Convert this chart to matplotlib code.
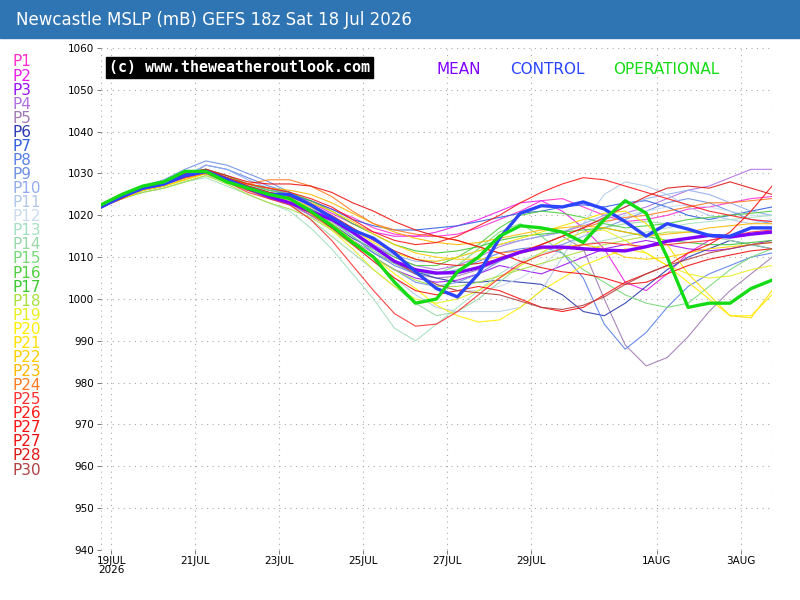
import matplotlib
matplotlib.use("Agg")
import matplotlib.pyplot as plt
from matplotlib.patches import Rectangle

# forecast hours from 18z 18 Jul, 12-hourly
hours = list(range(0, 385, 12))

mean = [1022, 1024.5, 1026.5, 1027.5, 1029.5, 1030.5, 1028.5, 1026.5, 1024.5, 1023, 1021, 1019, 1016,
        1012.5, 1009, 1007, 1006.2, 1006.3, 1007.5, 1009.5, 1011.2, 1012.4, 1012.4, 1012, 1011.7, 1011.5,
        1012.5, 1013.8, 1014.5, 1015.2, 1014.8, 1015.5, 1016]
control = [1022, 1024.5, 1026.5, 1027.5, 1029.5, 1030.5, 1028.5, 1026.5, 1025, 1025, 1022.5, 1019.5, 1016.5,
           1014.5, 1011, 1006.5, 1002.5, 1000.5, 1006, 1014.5, 1020.5, 1022.3, 1022, 1023.2, 1021.5, 1018.5,
           1015, 1018, 1016.7, 1015.2, 1015, 1017, 1017]
operational = [1022.5, 1025, 1027, 1028, 1030.5, 1030.5, 1028, 1026.5, 1025, 1024, 1021, 1017.5, 1013.5,
               1010, 1004, 999, 1000, 1006.5, 1010, 1015, 1017.5, 1017, 1016, 1013.5, 1019, 1023.5,
               1020.5, 1010, 998, 999, 999, 1002.5, 1004.5]

member_names = ["P1", "P2", "P3", "P4", "P5", "P6", "P7", "P8", "P9", "P10", "P11", "P12", "P13", "P14", "P15",
                "P16", "P17", "P18", "P19", "P20", "P21", "P22", "P23", "P24", "P25", "P26", "P27", "P27",
                "P28", "P30"]
member_colors = ["#ff2fd0", "#e81ee8", "#9a10f0", "#b070e0", "#a07ab4", "#2a3ab0", "#2f5ee0", "#5a80e8",
                 "#6f90e4", "#92acee", "#b2c8ea", "#cadbee", "#a6e0c2", "#98d8a8", "#78d878", "#50d040",
                 "#3ec834", "#a8e040", "#e8f020", "#ffee00", "#ffe000", "#ffd000", "#ffb800", "#ff7a20",
                 "#ff3030", "#ff1818", "#ff1010", "#f01010", "#e01818", "#b04040"]

p1 = [1022, 1024, 1026.5, 1027.5, 1029.5, 1030, 1028.5, 1027, 1026, 1025, 1023.5, 1021.5, 1019.5, 1017, 1015.5,
      1015, 1015, 1015.5, 1017, 1019, 1021, 1023.5, 1024, 1022, 1020, 1018.5, 1019, 1020, 1021.5, 1022, 1023,
      1024, 1024.5]
p2 = [1022, 1024.5, 1026.5, 1028, 1029.5, 1030.5, 1029, 1027.5, 1026.5, 1025, 1023, 1020.5, 1018, 1016, 1015,
      1015, 1016, 1017.5, 1019, 1021, 1023, 1023.5, 1021, 1017, 1012, 1004, 1002, 1006, 1011, 1014, 1015,
      1015.5, 1016]
p3 = [1022, 1024, 1026, 1027.5, 1029, 1030, 1028, 1026, 1024.5, 1023, 1020, 1017, 1013.5, 1010, 1007, 1005,
      1004, 1004.5, 1006, 1008, 1007, 1006, 1008, 1010, 1012, 1013, 1014, 1013, 1012, 1011.5, 1012, 1013, 1014]
p4 = [1022.5, 1024.5, 1026.5, 1027.5, 1029, 1030, 1028.5, 1026.5, 1025, 1024, 1022, 1019, 1016, 1013, 1010,
      1008, 1007, 1008, 1010, 1012.5, 1014, 1015, 1016, 1017.5, 1019, 1020.5, 1022, 1024, 1026, 1027, 1029,
      1031, 1031]
p5 = [1022, 1024.5, 1026, 1027.5, 1029, 1030, 1028, 1026, 1024, 1022.5, 1020, 1017, 1014, 1011, 1008.5, 1006,
      1005, 1005.5, 1007, 1009, 1011, 1013, 1015, 1012, 1000, 989, 984, 986, 991, 997, 1002, 1006, 1010]
p6 = [1022, 1024, 1026, 1027, 1029, 1030.5, 1028.5, 1026.5, 1025, 1024, 1021.5, 1018, 1014.5, 1012, 1009,
      1006.5, 1005, 1004, 1004, 1004.5, 1004, 1003.5, 1001, 997, 996, 999, 1003, 1007, 1010, 1012, 1014, 1013,
      1012]
p7 = [1022, 1024.5, 1026.5, 1027.5, 1029.5, 1031, 1029.5, 1027.5, 1026, 1025, 1023.5, 1021.5, 1019, 1017.5,
      1016.5, 1016.5, 1017, 1017.5, 1018.5, 1019.5, 1020.5, 1021, 1022, 1022.5, 1022, 1023, 1023.5, 1022, 1020,
      1019, 1020, 1021, 1022]
p8 = [1022, 1024, 1026, 1027, 1029, 1032, 1031, 1029, 1027, 1025.5, 1023, 1019, 1015, 1011, 1008, 1006, 1006,
      1007, 1009, 1011, 1012, 1012.5, 1011, 1005, 994, 988, 992, 998, 1003, 1006, 1008, 1010, 1011]
p9 = [1022.5, 1025, 1027, 1028.5, 1031, 1033, 1032, 1030, 1028, 1025.5, 1022, 1018, 1014, 1010, 1007, 1004,
      1003, 1004, 1006, 1009, 1011, 1012, 1013, 1015, 1017, 1019, 1021, 1023, 1024, 1023, 1021, 1019, 1018]
p10 = [1022, 1024.5, 1026.5, 1027.5, 1029.5, 1032, 1031, 1028.5, 1026.5, 1025, 1022.5, 1019.5, 1016, 1013,
       1010.5, 1009, 1009, 1010, 1011.5, 1013, 1014, 1015, 1016, 1018, 1020, 1022, 1024, 1025, 1026, 1025, 1023,
       1021, 1020]
p11 = [1022, 1024, 1026, 1027, 1029, 1031, 1029.5, 1027.5, 1025.5, 1024, 1021, 1017.5, 1013, 1009, 1005, 1001,
       998, 997, 997, 997, 998, 1002, 1010, 1018, 1025, 1028, 1027, 1025, 1022, 1020, 1019, 1018, 1019]
p12 = [1022, 1024, 1026, 1027.5, 1029.5, 1031, 1029.5, 1027.5, 1026, 1024.5, 1022, 1019, 1015.5, 1012, 1009,
       1006, 1003.5, 1002, 1002, 1003, 1005, 1008, 1012, 1015, 1018, 1020, 1021, 1022, 1022.5, 1022, 1021, 1020,
       1020]
p13 = [1022, 1024, 1025.5, 1026.5, 1028, 1029, 1027, 1025, 1023, 1021, 1017, 1012, 1006, 1000, 993, 990, 994,
       998, 1002, 1006, 1009, 1011, 1012, 1013, 1014, 1015, 1016, 1017, 1018, 1018.5, 1019, 1019.5, 1020]
p14 = [1022, 1024, 1025.5, 1026.5, 1028, 1029.5, 1028, 1026, 1024.5, 1022.5, 1019, 1015, 1011, 1007, 1003, 999,
       996, 997, 1000, 1004, 1008, 1011, 1014, 1016, 1017, 1018, 1018.5, 1018, 1017, 1015, 1014, 1013, 1012]
p15 = [1022, 1024.5, 1026.5, 1027.5, 1029.5, 1030.5, 1029, 1027, 1025.5, 1024, 1021.5, 1018.5, 1015, 1011.5,
       1008.5, 1006.5, 1006, 1008, 1012, 1016, 1018, 1015, 1011, 1007, 1004, 1001, 999, 998, 999, 1003, 1007,
       1010, 1012]
p16 = [1022, 1024.5, 1026.5, 1028, 1030, 1031, 1029.5, 1027.5, 1026, 1025, 1022.5, 1019.5, 1016, 1012.5, 1010,
       1008, 1008, 1010, 1013, 1017, 1020, 1021, 1020.5, 1019.5, 1018, 1017, 1017.5, 1018, 1019, 1019.5, 1020,
       1020.5, 1021]
p17 = [1022.5, 1025, 1027, 1028, 1030, 1031, 1029, 1027.5, 1026.5, 1025.5, 1023.5, 1021, 1018, 1015.5, 1013,
       1011.5, 1011, 1011.5, 1012.5, 1014, 1015, 1015.5, 1016, 1016.5, 1017, 1016, 1015, 1014, 1013.5, 1013,
       1013, 1013.5, 1014]
p18 = [1022, 1024, 1025.5, 1026.5, 1028, 1029.5, 1027.5, 1025, 1023, 1021.5, 1019.5, 1016.5, 1013, 1010, 1007,
       1004.5, 1003, 1003, 1004, 1005.5, 1007, 1008.5, 1010, 1011.5, 1013, 1014, 1015, 1016, 1016, 1015.5, 1015,
       1015.5, 1016]
p19 = [1022, 1024, 1026, 1027, 1028.5, 1030, 1028, 1026, 1024.5, 1023, 1020.5, 1016.5, 1012, 1007, 1003, 1000,
       999, 1000, 1002, 1005, 1008, 1011, 1014, 1016, 1016.5, 1014, 1011, 1008, 1006, 1005, 1005.5, 1007, 1008]
p20 = [1022, 1024, 1026, 1027, 1028.5, 1030, 1028.5, 1026.5, 1025, 1023.5, 1021, 1018, 1014, 1010, 1006,
       1002.5, 998.5, 996, 994.5, 995, 998, 1002, 1005, 1008, 1010, 1012, 1011, 1008, 1004, 1000, 996, 996, 1001]
p21 = [1022, 1024.5, 1026.5, 1027.5, 1029, 1030.5, 1028.5, 1026.5, 1025, 1024, 1022, 1019.5, 1016.5, 1013.5,
       1011, 1009.5, 1009, 1010, 1011.5, 1013, 1014.5, 1016, 1017.5, 1019, 1020.5, 1021, 1018, 1013, 1006, 1001,
       996, 995.5, 1002]
p22 = [1022, 1024, 1026, 1027, 1028.5, 1030, 1028.5, 1027, 1025.5, 1024.5, 1023, 1021, 1018.5, 1015.5, 1013,
       1011, 1010, 1009.5, 1009.5, 1010, 1011, 1012, 1012.5, 1013, 1012, 1010, 1009.5, 1010, 1011, 1012, 1012.5,
       1013, 1013.5]
p23 = [1022, 1024.5, 1026.5, 1027.5, 1029, 1030.5, 1029, 1027.5, 1026.5, 1026, 1025, 1023, 1020.5, 1018, 1016,
       1014.5, 1013.5, 1013, 1013.5, 1014.5, 1015.5, 1016.5, 1017, 1017.5, 1017, 1016, 1015, 1015.5, 1016, 1017,
       1017.5, 1018, 1018]
p24 = [1022.5, 1025, 1027, 1027.5, 1029, 1030, 1028, 1027.5, 1028.5, 1028.5, 1027, 1024.5, 1021, 1018, 1016.5,
       1015.5, 1015, 1014, 1012.5, 1011, 1011.5, 1013, 1015, 1017, 1018.5, 1019.5, 1020, 1021, 1022, 1023, 1023,
       1023.5, 1024]
p25 = [1022, 1024.5, 1026.5, 1027.5, 1029, 1030.5, 1028, 1025.5, 1024, 1022.5, 1019, 1014, 1008, 1002, 996.5,
       993.5, 994, 997, 1001, 1005, 1008.5, 1010.5, 1012, 1013, 1013.5, 1013, 1012.5, 1013, 1013.5, 1014, 1015,
       1016, 1016.5]
p26 = [1022, 1024.5, 1026.5, 1028, 1029.5, 1030.5, 1029, 1027.5, 1026.5, 1025.5, 1024, 1022, 1019, 1016, 1014,
       1013, 1013.5, 1015, 1017.5, 1020, 1023, 1025.5, 1027.5, 1029, 1028.5, 1027, 1025.5, 1024, 1022.5, 1021,
       1020, 1019, 1018.5]
p27 = [1022, 1024, 1026.5, 1027.5, 1029.5, 1030.5, 1028.5, 1026, 1024.5, 1023, 1020.5, 1017, 1013, 1009, 1005,
       1002, 1001, 1002, 1003, 1002, 1000, 998, 997, 998, 1001, 1004, 1006, 1008, 1011, 1013, 1016, 1021, 1027]
p27b = [1022, 1024.5, 1026.5, 1028, 1030, 1031, 1029.5, 1028, 1027.5, 1027.5, 1027, 1025.5, 1023, 1021, 1018.5,
        1016.5, 1015, 1014, 1012.5, 1011, 1009, 1007.5, 1006.5, 1006, 1005, 1003.5, 1004, 1006, 1008, 1009.5,
        1010.5, 1011.5, 1012]
p28 = [1022.5, 1025, 1027, 1028, 1030, 1031, 1029, 1027, 1025.5, 1024.5, 1022.5, 1020, 1017, 1014, 1011.5,
       1009.5, 1008.5, 1008, 1008.5, 1009.5, 1011, 1013, 1015, 1017, 1019.5, 1022, 1024.5, 1026.5, 1027, 1026.5,
       1028, 1026.5, 1025]
p30 = [1022, 1024.5, 1026.5, 1028, 1030, 1031, 1029, 1027, 1025.5, 1024.5, 1022.5, 1019.5, 1016, 1012.5, 1009,
       1006, 1003.5, 1002, 1001.5, 1001, 999.5, 998, 997.5, 998.5, 1000.5, 1003.5, 1006, 1008, 1009.5, 1011,
       1012, 1013, 1013.5]
members = [p1, p2, p3, p4, p5, p6, p7, p8, p9, p10, p11, p12, p13, p14, p15, p16, p17, p18, p19, p20, p21,
           p22, p23, p24, p25, p26, p27, p27b, p28, p30]

date_ticks = [6, 54, 102, 150, 198, 246, 318, 366]
date_labels = ["19JUL\n2026", "21JUL", "23JUL", "25JUL", "27JUL", "29JUL", "1AUG", "3AUG"]
y_ticks = list(range(940, 1061, 10))

narrow = ["Liberation Sans Narrow", "DejaVu Sans"]

fig = plt.figure(figsize=(8, 6), dpi=100)
fig.patch.set_facecolor("white")

# title bar
fig.patches.append(Rectangle((0, 1 - 38 / 600), 1, 38 / 600, transform=fig.transFigure,
                             color="#2f74b3", zorder=0))
fig.text(16 / 800, 1 - 20 / 600, "Newcastle MSLP (mB) GEFS 18z Sat 18 Jul 2026", color="white",
         fontsize=12, va="center", ha="left")

ax = fig.add_axes([101 / 800, 50 / 600, 671 / 800, 502 / 600])
for i, m in enumerate(members):
    ax.plot(hours, m, color=member_colors[i], lw=0.8, alpha=0.9, zorder=2)
ax.plot(hours, mean, color="#8000ff", lw=2.4, zorder=3)
ax.plot(hours, control, color="#2b45ff", lw=2.4, zorder=4)
ax.plot(hours, operational, color="#14dc14", lw=2.4, zorder=5)

ax.set_xlim(0, 384)
ax.set_ylim(940, 1060)
ax.set_yticks(y_ticks)
ax.set_yticklabels([str(v) for v in y_ticks], fontsize=7.5, family=narrow)
ax.set_xticks(date_ticks)
ax.set_xticklabels(date_labels, fontsize=7.5, family=narrow, linespacing=0.95)
ax.tick_params(axis="y", length=3, width=0.6, color="#666666", pad=2)
ax.tick_params(axis="x", length=3, width=0.6, color="#666666", pad=1)
ax.grid(True, color="#aaaaaa", ls=(0, (1, 4)), lw=0.8)
for s in ax.spines.values():
    s.set_visible(False)
for xv in (0, 384):
    ax.axvline(xv, color="#aaaaaa", ls=(0, (1, 4)), lw=0.8, zorder=1)

# in-plot legend
ax.text(0.012, 0.962, "(c) www.theweatheroutlook.com", transform=ax.transAxes, color="white",
        fontsize=10.8, fontweight="bold", family="DejaVu Sans Mono", va="center", ha="left",
        bbox=dict(boxstyle="square,pad=0.2", fc="black", ec="black"), zorder=6)
ax.text(459 / 800, 1 - 69 / 600, "MEAN", transform=fig.transFigure, color="#8000ff", fontsize=11,
        family=narrow, ha="center", va="center")
ax.text(547 / 800, 1 - 69 / 600, "CONTROL", transform=fig.transFigure, color="#2b45ff", fontsize=11,
        family=narrow, ha="center", va="center")
ax.text(666 / 800, 1 - 69 / 600, "OPERATIONAL", transform=fig.transFigure, color="#14dc14", fontsize=11,
        family=narrow, ha="center", va="center")

# member key on the left
for i, name in enumerate(member_names):
    fig.text(12 / 800, 1 - (62 + i * 14.07) / 600, name, color=member_colors[i], fontsize=11,
             ha="left", va="center")

fig.savefig("out.png", dpi=100)
